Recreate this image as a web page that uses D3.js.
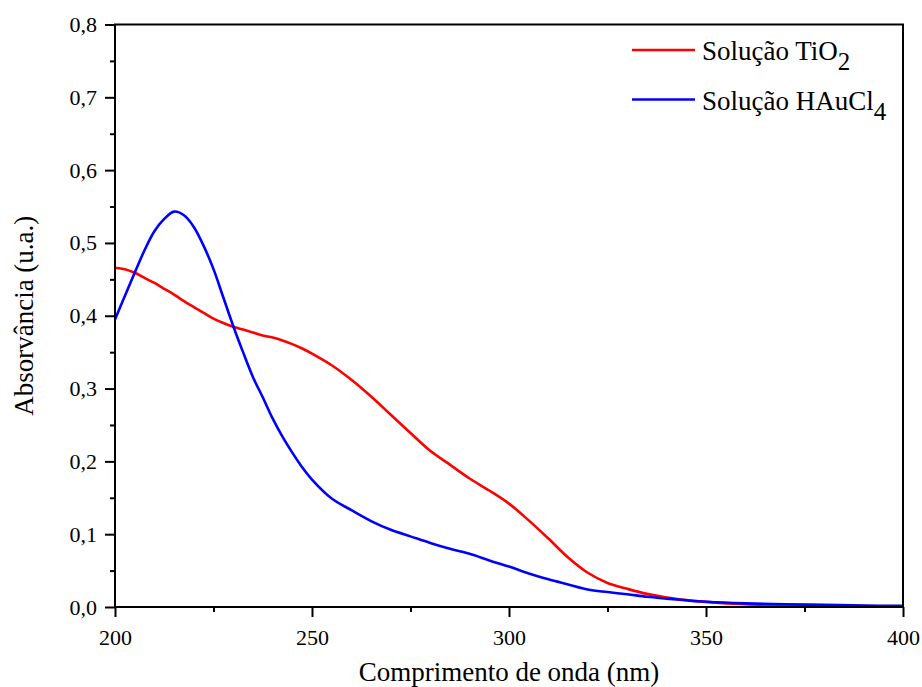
<!DOCTYPE html>
<html>
<head>
<meta charset="utf-8">
<script src="https://cdn.jsdelivr.net/npm/d3@7"></script>
<style>
  body { margin: 0; background: #fff; }
  svg text { font-family: "Liberation Serif", "Times New Roman", serif; fill: #000; }
</style>
</head>
<body>
<div id="chart"></div>
<script>
// wavelength (nm)
const wavelengths = [200, 202.5, 205, 207.5, 210, 212.5, 215, 217.5, 220, 222.5, 225, 227.5, 230, 232.5, 235, 237.5, 240, 242.5, 245, 247.5, 250,
  255, 260, 265, 270, 275, 280, 285, 290, 295, 300, 305, 310, 315, 320, 325, 330, 335, 340, 345, 350,
  360, 370, 380, 390, 400];

const tio2 = [0.466, 0.464, 0.459, 0.452, 0.445, 0.437, 0.429, 0.420, 0.412, 0.404, 0.396, 0.390, 0.385, 0.381, 0.377, 0.373, 0.370, 0.366, 0.361, 0.355, 0.348,
  0.332, 0.312, 0.289, 0.264, 0.239, 0.2145, 0.1955, 0.1765, 0.160, 0.142, 0.119, 0.094, 0.068, 0.047, 0.033, 0.025, 0.018, 0.013, 0.0095, 0.007,
  0.0037, 0.0023, 0.0018, 0.0012, 0.001];

const haucl4 = [0.395, 0.427, 0.459, 0.490, 0.516, 0.533, 0.543, 0.538, 0.522, 0.496, 0.464, 0.425, 0.386, 0.350, 0.316, 0.288, 0.259, 0.234, 0.212, 0.192, 0.175,
  0.149, 0.133, 0.118, 0.106, 0.097, 0.088, 0.080, 0.073, 0.064, 0.0555, 0.046, 0.038, 0.031, 0.024, 0.0205, 0.0175, 0.014, 0.0115, 0.0092, 0.0073,
  0.005, 0.0037, 0.003, 0.002, 0.0015];

const xTicks = [200, 250, 300, 350, 400];
const yTicks = [0, 0.1, 0.2, 0.3, 0.4, 0.5, 0.6, 0.7, 0.8];

const series = [
  { name: "Solução TiO", sub: "2", color: "#ff0000", values: tio2 },
  { name: "Solução HAuCl", sub: "4", color: "#0000ff", values: haucl4 }
];

const width = 922, height = 687;
const margin = { top: 24.5, right: 19, bottom: 80, left: 115 };
const serif = "Liberation Serif, Times New Roman, serif";

const svg = d3.select("#chart").append("svg")
  .attr("width", width)
  .attr("height", height);

const x = d3.scaleLinear().domain([200, 400]).range([margin.left, width - margin.right]);
const y = d3.scaleLinear().domain([0, 0.8]).range([height - margin.bottom, margin.top]);

const fmt = d => d3.format(".1f")(d).replace(".", ",");

// curves
const line = d3.line()
  .x((d, i) => x(wavelengths[i]))
  .y(d => y(d))
  .curve(d3.curveCatmullRom.alpha(0.5));

series.forEach(s => {
  svg.append("path")
    .attr("d", line(s.values))
    .attr("fill", "none")
    .attr("stroke", s.color)
    .attr("stroke-width", 2.6)
    .attr("stroke-linejoin", "round");
});

// frame
svg.append("rect")
  .attr("x", margin.left).attr("y", margin.top)
  .attr("width", width - margin.left - margin.right)
  .attr("height", height - margin.top - margin.bottom)
  .attr("fill", "none")
  .attr("stroke", "#000")
  .attr("stroke-width", 2);

// x axis
const xAxis = svg.append("g")
  .attr("transform", `translate(0,${height - margin.bottom})`)
  .call(d3.axisBottom(x).tickValues(xTicks).tickSize(10).tickPadding(12).tickFormat(d3.format("d")));
xAxis.append("g").call(d3.axisBottom(x).tickValues([225, 275, 325, 375]).tickSize(5).tickFormat(""));

// y axis
const yAxis = svg.append("g")
  .attr("transform", `translate(${margin.left},0)`)
  .call(d3.axisLeft(y).tickValues(yTicks).tickSize(10).tickPadding(8).tickFormat(fmt));
yAxis.append("g").call(d3.axisLeft(y).tickValues(d3.range(0.05, 0.8, 0.1)).tickSize(5).tickFormat(""));

[xAxis, yAxis].forEach(a => a.attr("font-family", serif).attr("font-size", 22));
svg.selectAll(".domain").remove();
svg.selectAll(".tick line").attr("stroke", "#000").attr("stroke-width", 2);
svg.selectAll(".tick text").attr("fill", "#000");

// axis titles
svg.append("text")
  .attr("x", (margin.left + width - margin.right) / 2)
  .attr("y", 681)
  .attr("text-anchor", "middle")
  .attr("font-family", serif)
  .attr("font-size", 27)
  .text("Comprimento de onda (nm)");

svg.append("text")
  .attr("transform", `translate(33,${(margin.top + height - margin.bottom) / 2}) rotate(-90)`)
  .attr("text-anchor", "middle")
  .attr("font-family", serif)
  .attr("font-size", 27)
  .text("Absorvância (u.a.)");

// legend
const legend = svg.append("g").attr("font-family", serif);
series.forEach((s, i) => {
  const ly = 50 + i * 49.5;
  legend.append("line")
    .attr("x1", 632).attr("x2", 695)
    .attr("y1", ly).attr("y2", ly)
    .attr("stroke", s.color)
    .attr("stroke-width", 2.6);
  const t = legend.append("text")
    .attr("x", 702)
    .attr("y", ly + 10)
    .attr("font-size", 27);
  t.append("tspan").text(s.name);
  t.append("tspan").attr("dy", 10).attr("font-size", 25).text(s.sub);
});
</script>
</body>
</html>
